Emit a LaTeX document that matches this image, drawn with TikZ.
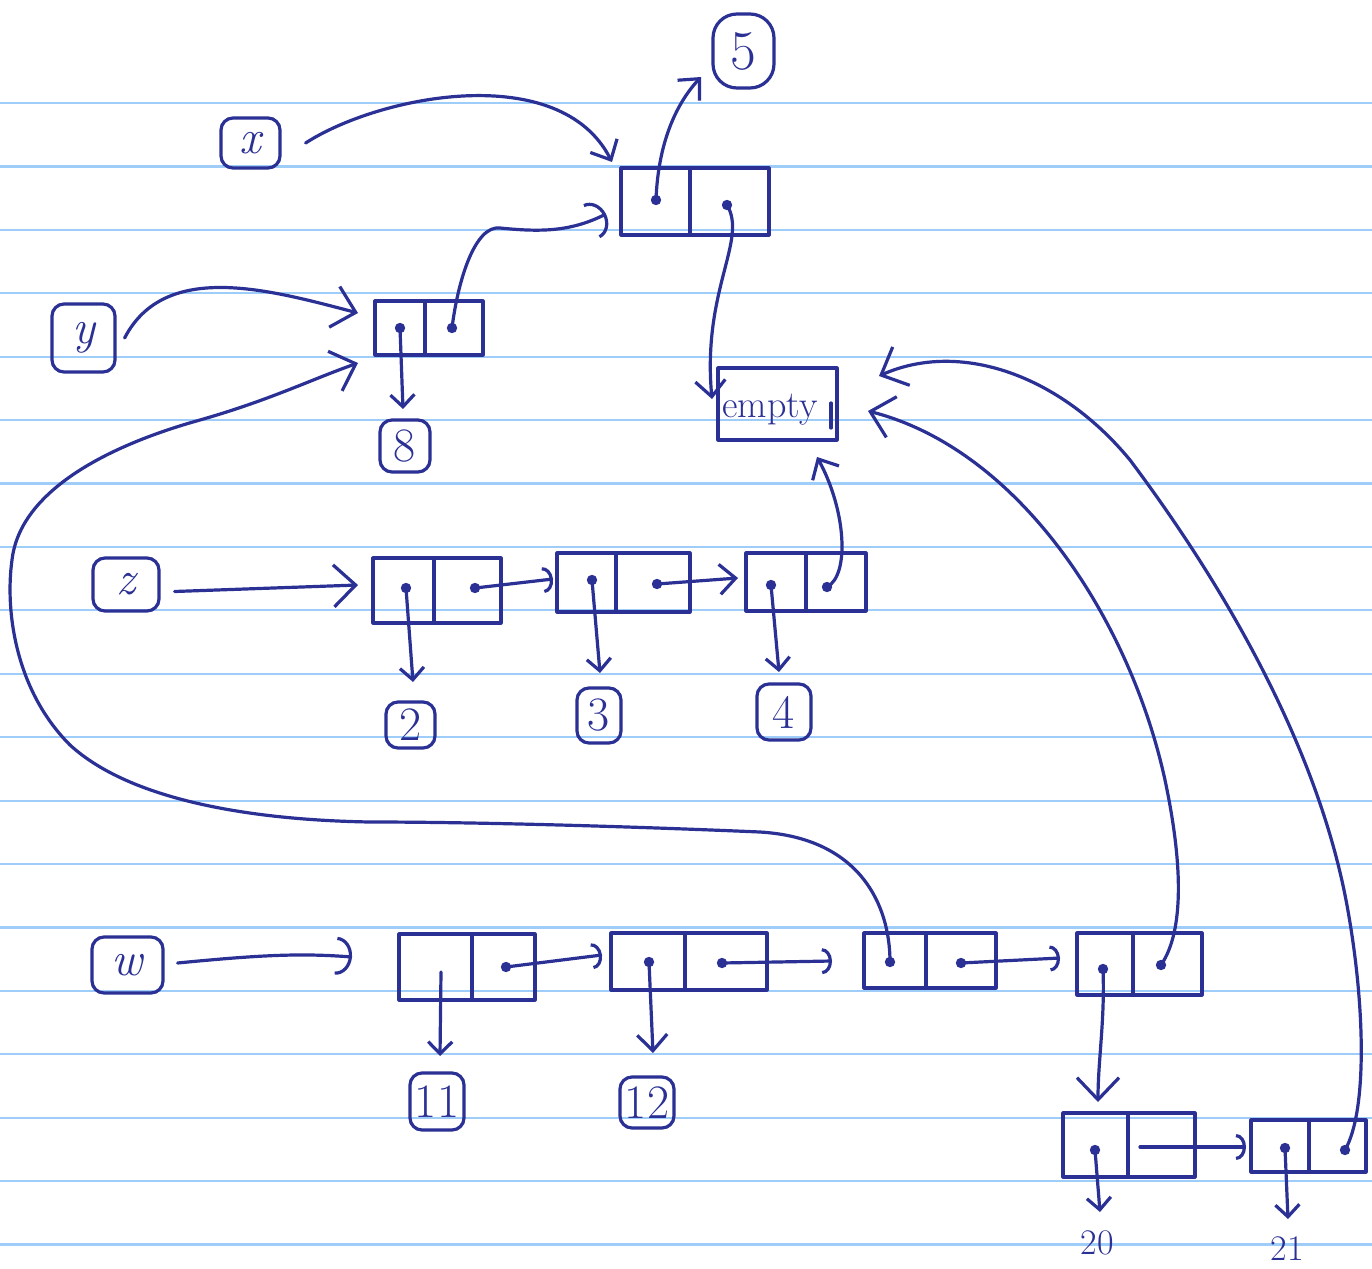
\documentclass[tikz,border=0pt]{standalone}
\usetikzlibrary{arrows.meta,fit}
\definecolor{inkblue}{RGB}{42,48,148}
\definecolor{rulecol}{RGB}{158,205,250}
% a cons cell: name, two corners, x of the divider
\newcommand\consnode[6]{%
  \node[cell, fit={(#2,#3) (#4,#5)}] (#1) {};
  \draw[inkline] (#6,#3) -- (#6,#5);}
% a boxed value or variable: name, two corners, text
\newcommand\lblnode[6]{%
  \node[lbl, minimum width={(#4-#2)*0.5pt}, minimum height={(#5-#3)*0.5pt}]
    (#1) at ({(#2+#4)/2},{(#3+#5)/2}) {#6};}
% a pointer origin drawn as a dot
\newcommand\ptrdot[3]{%
  \coordinate (#1) at (#2,#3);
  \fill[inkblue] (#1) circle[radius=2.6pt];}
\begin{document}
\begin{tikzpicture}[x=0.5pt,y=-0.5pt,
  inkline/.style={draw=inkblue, line width=1.6pt, line cap=round, line join=round},
  cell/.style={inkline, rectangle, inner sep=0pt},
  lbl/.style={inkline, rectangle, rounded corners=6pt, inner sep=0pt, text=inkblue, font=\fontsize{24}{28}\selectfont},
  plain/.style={text=inkblue, inner sep=0pt, font=\fontsize{18}{22}\selectfont},
  tipbig/.style={inkline, -{Straight Barb[length=11pt,width=21pt]}},
  tipmid/.style={inkline, -{Straight Barb[length=8pt,width=15pt]}},
  tipsmall/.style={inkline, -{Straight Barb[length=6pt,width=12pt]}},
  tiphook/.style={inkline, -{Arc Barb[length=5pt,width=13pt]}},
  tipbighook/.style={inkline, -{Arc Barb[length=8pt,width=19pt]}},
]
\fill[white] (0,0) rectangle (1372,1269);
\useasboundingbox (0,0) rectangle (1372,1269);

% ruled paper
\foreach \k in {0,...,18}
  \draw[rulecol, line width=1.1pt] (0,{103+63.42*\k}) -- (1372,{103+63.42*\k});

% variables and values
\lblnode{vx}{221}{118}{280}{168}{\itshape x}
\begin{scope}[lbl/.append style={rounded corners=12pt, font=\fontsize{28}{32}\selectfont}]
\lblnode{n5}{713}{14}{774}{88}{5}
\end{scope}
\lblnode{vy}{52}{304}{115}{372}{\itshape y}
\lblnode{n8}{380}{420}{430}{472}{8}
\lblnode{vz}{93}{558}{159}{611}{\itshape z}
\lblnode{n2}{386}{702}{435}{748}{2}
\lblnode{n3}{577}{688}{621}{743}{3}
\lblnode{n4}{757}{684}{811}{740}{4}
\lblnode{vw}{92}{937}{163}{993}{\itshape w}
\lblnode{n11}{410}{1073}{464}{1130}{11}
\lblnode{n12}{620}{1077}{674}{1128}{12}
\node[plain] (n20) at (1097,1243) {20};
\node[plain] (n21) at (1287,1249) {21};
\node[cell, fit={(718,368) (837,440)}] (empty) {};
\node[plain, font=\fontsize{19}{22}\selectfont] (emptytext) at (770,410) {empty};
\draw[inkline] (831,403) -- (831,428);

% cons cells
\consnode{A}{621}{168}{769}{235}{690}
\consnode{B}{375}{301}{483}{355}{425}
\consnode{C1}{373}{558}{501}{623}{434}
\consnode{C2}{557}{553}{690}{612}{616}
\consnode{C3}{746}{553}{866}{611}{806}
\consnode{W1}{399}{934}{535}{1000}{472}
\consnode{W2}{611}{933}{767}{990}{685}
\consnode{W3}{864}{933}{996}{988}{926}
\consnode{W4}{1077}{933}{1202}{995}{1133}
\consnode{V1}{1063}{1113}{1195}{1177}{1128}
\consnode{V2}{1251}{1120}{1366}{1172}{1309}

% pointer origins
\ptrdot{A1}{656}{200} \ptrdot{A2}{727}{205}
\ptrdot{B1}{400}{328} \ptrdot{B2}{452}{328}
\ptrdot{C1a}{406}{588} \ptrdot{C1b}{475}{588}
\ptrdot{C2a}{592}{580} \ptrdot{C2b}{657}{584}
\ptrdot{C3a}{771}{585} \ptrdot{C3b}{827}{587}
\coordinate (W1a) at (441,972); \ptrdot{W1b}{506}{967}
\ptrdot{W2a}{649}{962} \ptrdot{W2b}{722}{963}
\ptrdot{W3a}{890}{962} \ptrdot{W3b}{961}{963}
\ptrdot{W4a}{1103}{969} \ptrdot{W4b}{1161}{965}
\ptrdot{V1a}{1095}{1150} \coordinate (V1b) at (1140,1147);
\ptrdot{V2a}{1285}{1148} \ptrdot{V2b}{1345}{1150}

% arrow tips
\coordinate (t5) at (701,77);
\coordinate (tAx) at (612,162);
\coordinate (tEa) at (712,399);
\coordinate (tBy) at (358,313);
\coordinate (tAb) at (606,214);
\coordinate (tB8) at (403,409);
\coordinate (tBw) at (358,363);
\coordinate (tC1) at (358,585);
\coordinate (tC2) at (553,579);
\coordinate (tC3) at (738,578);
\coordinate (tEc) at (817,457);
\coordinate (t2) at (413,682);
\coordinate (t3) at (600,673);
\coordinate (t4) at (779,672);
\coordinate (tW1) at (352,957);
\coordinate (tW2) at (602,955);
\coordinate (tW3) at (832,961);
\coordinate (tW4) at (1060,958);
\coordinate (t11) at (440,1056);
\coordinate (t12) at (653,1053);
\coordinate (tV1) at (1098,1102);
\coordinate (t20) at (1100,1212);
\coordinate (tV2) at (1246,1147);
\coordinate (t21) at (1288,1219);
\coordinate (tEw) at (868,411);
\coordinate (tEv) at (879,376);

% top structure
\draw[tipmid] ([xshift=12pt]vx.east) .. controls (380,95) and (560,60) .. (tAx);
\draw[tipmid] (A1) .. controls (658,145) and (675,105) .. (t5);
\draw[tipmid] (A2) .. controls (748,240) and (702,290) .. (tEa);
\draw[tipbig] ([xshift=4pt]vy.east) .. controls (165,260) and (270,290) .. (tBy);
\draw[tipbighook] (B2) .. controls (458,280) and (475,225) .. (500,228)
  .. controls (540,232) and (570,232) .. (tAb);
\draw[tipsmall] (B1) -- (tB8);

% z list
\draw[tipbig] ([shift={(14,7)}]vz.east) -- (tC1);
\draw[tiphook] (C1b) -- (tC2);
\draw[tipmid] (C2b) -- (tC3);
\draw[tipmid] (C3b) .. controls (850,575) and (846,510) .. (tEc);
\draw[tipsmall] (C1a) -- (t2);
\draw[tipsmall] (C2a) -- (t3);
\draw[tipsmall] (C3a) -- (t4);

% w list
\draw[tipbighook] ([shift={(13,-2)}]vw.east) .. controls (260,955) and (300,953) .. (tW1);
\draw[tiphook] (W1b) -- (tW2);
\draw[tiphook] (W2b) -- (tW3);
\draw[tiphook] (W3b) -- (tW4);
\draw[tipsmall] (W1a) -- (t11);
\draw[tipmid] (W2a) -- (t12);
\draw[tipbig] (W4a) .. controls (1105,1020) and (1098,1060) .. (tV1);
\draw[tipsmall] (V1a) -- (t20);
\draw[tiphook] (V1b) -- (tV2);
\draw[tipsmall] (V2a) -- (t21);

% long pointers back up
\draw[tipbig] (W3a) .. controls (890,905) and (860,838) .. (760,832)
  .. controls (620,826) and (470,822) .. (370,822)
  .. controls (250,820) and (130,800) .. (70,745)
  .. controls (15,690) and (5,610) .. (12,560)
  .. controls (20,490) and (110,445) .. (200,420)
  .. controls (270,400) and (310,380) .. (tBw);
\draw[tipbig] (W4b) .. controls (1185,930) and (1182,860) .. (1165,780)
  .. controls (1130,620) and (1020,450) .. (tEw);
\draw[tipbig] (V2b) .. controls (1368,1110) and (1365,1000) .. (1346,900)
  .. controls (1315,740) and (1220,580) .. (1130,460)
  .. controls (1060,375) and (960,340) .. (tEv);
\end{tikzpicture}
\end{document}
